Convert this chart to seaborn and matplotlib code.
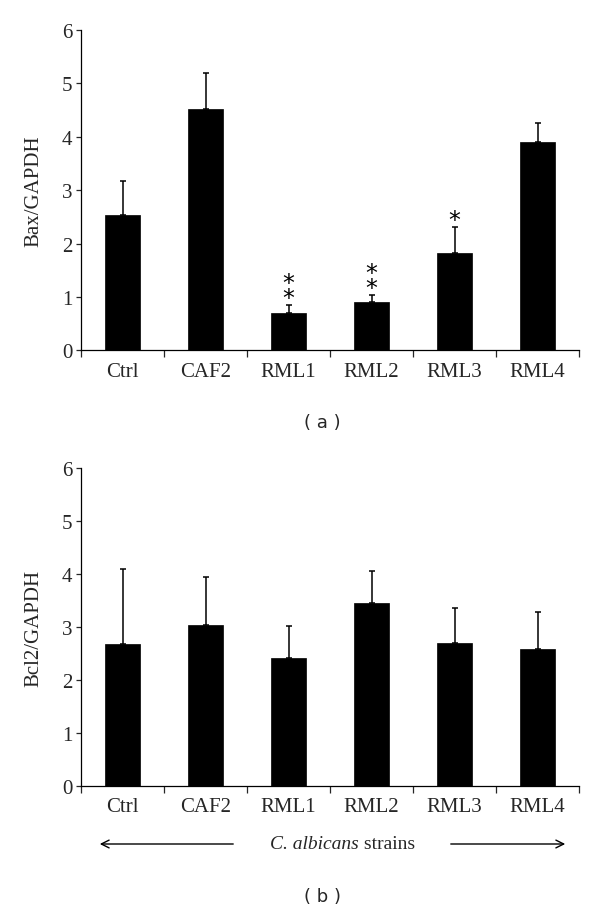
import numpy as np
import pandas as pd
import matplotlib
matplotlib.use('Agg')
import matplotlib.pyplot as plt
import seaborn as sns

strains = ['Ctrl', 'CAF2', 'RML1', 'RML2', 'RML3', 'RML4']

bax_mean = [2.53, 4.53, 0.71, 0.91, 1.82, 3.90]
bax_sd = [0.65, 0.67, 0.14, 0.13, 0.50, 0.35]
bax_stars = ['', '', '**', '**', '*', '']

bcl2_mean = [2.68, 3.05, 2.42, 3.45, 2.71, 2.58]
bcl2_sd = [1.42, 0.90, 0.61, 0.61, 0.65, 0.71]

sns.set_style('ticks')
serif = ['Liberation Serif', 'DejaVu Serif']
plt.rcParams['font.family'] = serif


def draw_panel(ax, means, sds, ylabel, stars=None):
    df = pd.DataFrame({'strain': strains, 'value': means})
    sns.barplot(data=df, x='strain', y='value', color='black', width=0.41,
                saturation=1, errorbar=None, ax=ax, edgecolor='black', linewidth=0.5)
    x = np.arange(len(strains))
    ax.errorbar(x, means, yerr=[np.zeros(len(means)), sds], fmt='none',
                ecolor='black', elinewidth=1.1, capsize=2.4, capthick=1.1)
    if stars is not None:
        for i, s in enumerate(stars):
            if not s:
                continue
            # stack the asterisks vertically in one text, bottom one just above the error bar
            ax.text(x[i], means[i] + sds[i] - 0.1, '\n'.join(s),
                    ha='center', va='bottom', fontsize=17, linespacing=0.53,
                    family=['DejaVu Sans'], color='black')
    ax.set_xlim(-0.5, len(strains) - 0.5)
    ax.set_ylim(0, 6)
    ax.set_yticks(range(7))
    ax.set_xticks(np.arange(-0.5, len(strains), 1.0))
    ax.set_xticklabels([])
    ax.set_xticks(x, minor=True)
    ax.set_xticklabels(strains, minor=True)
    ax.tick_params(axis='x', which='major', length=5, width=0.9, direction='out')
    ax.tick_params(axis='x', which='minor', length=0, pad=8, labelsize=15)
    ax.tick_params(axis='y', length=3.3, width=0.9, pad=3, labelsize=15)
    ax.set_xlabel('')
    ax.set_ylabel(ylabel, fontsize=15, labelpad=13)
    sns.despine(ax=ax)
    for sp in ['left', 'bottom']:
        ax.spines[sp].set_linewidth(0.9)
        ax.spines[sp].set_color('black')


fig = plt.figure(figsize=(6, 9.12), dpi=100)
ax_a = fig.add_axes([0.135, 0.6146, 0.83, 0.3514])
ax_b = fig.add_axes([0.135, 0.137, 0.83, 0.3484])

draw_panel(ax_a, bax_mean, bax_sd, 'Bax/GAPDH', bax_stars)
draw_panel(ax_b, bcl2_mean, bcl2_sd, 'Bcl2/GAPDH')

fig.text(322 / 600, 1 - 423 / 912, '( a )', ha='center', va='center',
         fontsize=13, family=['DejaVu Sans'])
fig.text(323 / 600, 1 - 897 / 912, '( b )', ha='center', va='center',
         fontsize=13, family=['DejaVu Sans'])

# strains caption with arrows under panel b
cap_y = 1 - 845 / 912
fig.text(359 / 600, cap_y, 'C. albicans', ha='right', va='center',
         fontsize=14, style='italic')
fig.text(359 / 600, cap_y, ' strains', ha='left', va='center', fontsize=14)
fig.add_artist(matplotlib.patches.FancyArrowPatch(
    (236 / 600, cap_y), (97 / 600, cap_y), transform=fig.transFigure,
    arrowstyle='->', mutation_scale=14, lw=1.0, color='black'))
fig.add_artist(matplotlib.patches.FancyArrowPatch(
    (448 / 600, cap_y), (568 / 600, cap_y), transform=fig.transFigure,
    arrowstyle='->', mutation_scale=14, lw=1.0, color='black'))

fig.savefig('out.png', dpi=100, facecolor='white')
